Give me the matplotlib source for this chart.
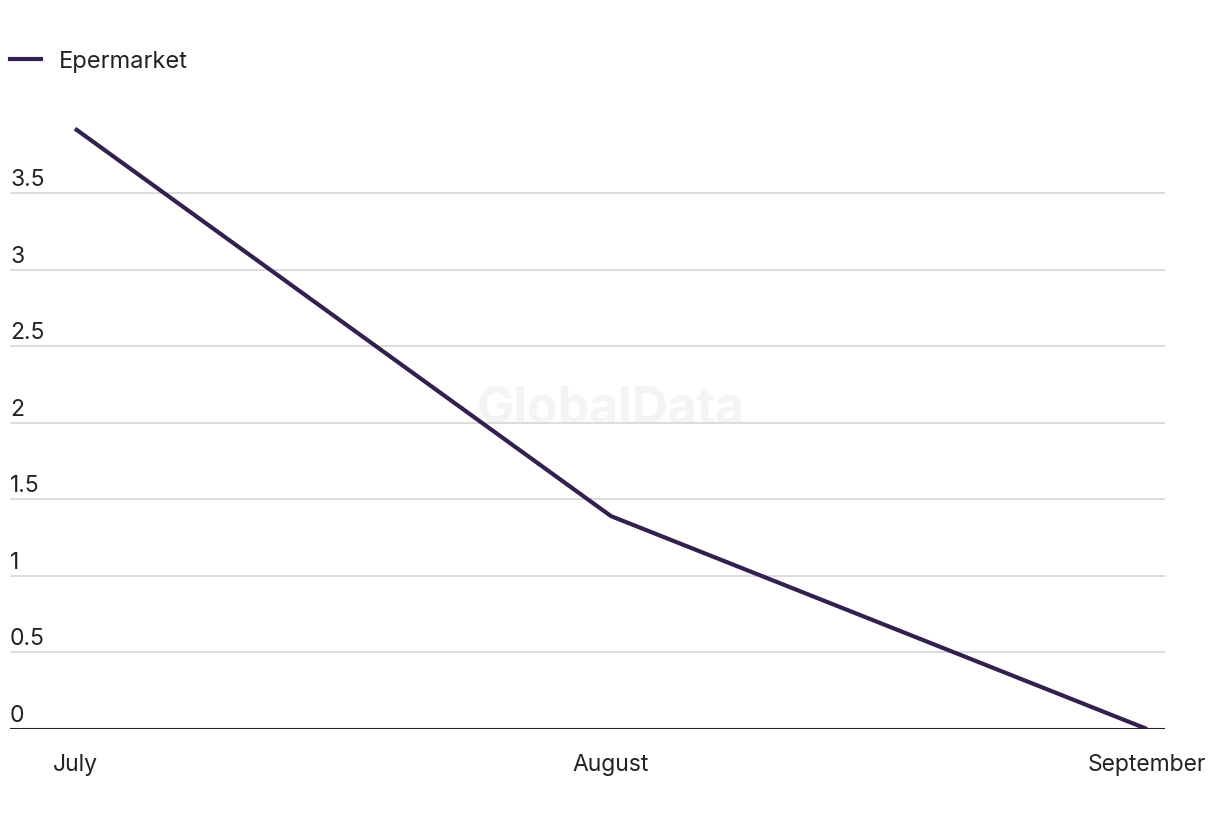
import matplotlib.pyplot as plt
from matplotlib.lines import Line2D
from matplotlib.transforms import offset_copy

plt.rcParams['font.family'] = ['Inter', 'DejaVu Sans']

months = ['July', 'August', 'September']
epermarket = [3.92, 1.39, 0.0]
y_ticks = [0, 0.5, 1, 1.5, 2, 2.5, 3, 3.5]
y_labels = ['0', '0.5', '1', '1.5', '2', '2.5', '3', '3.5']

line_color = '#33204f'
text_color = '#222222'

fig = plt.figure(figsize=(12.2, 8.2), dpi=100)
ax = fig.add_axes([10 / 1220, 90 / 820, 1155 / 1220, (730 - 117.4) / 820])

x = list(range(len(months)))
ax.plot(x, epermarket, color=line_color, linewidth=3, solid_capstyle='butt', zorder=3)

ax.set_xlim(-65 / 536, 2 + 18 / 536)
ax.set_ylim(0, 4)

# gridlines, with labels sitting on top of them
lab_trans = offset_copy(ax.get_yaxis_transform(), fig=fig, x=0, y=8, units='dots')
for v, lab in zip(y_ticks, y_labels):
    if v == 0:
        ax.axhline(v, color='#222222', linewidth=1.5, zorder=2)
    else:
        ax.axhline(v, color='#d9d9d9', linewidth=1.3, zorder=1)
    ax.text(0, v, lab, transform=lab_trans, ha='left', va='baseline',
            fontsize=16.5, color=text_color)
ax.set_yticks([])

ax.set_xticks(x)
ax.set_xticklabels(months, fontsize=16.5, color=text_color)
ax.tick_params(axis='x', length=0, pad=17)

for s in ax.spines.values():
    s.set_visible(False)

# watermark
ax.text(1, 2.09, 'GlobalData', ha='center', va='center',
        fontsize=36, fontweight='bold', color='#f4f4f4', zorder=0)

handle = Line2D([], [], color=line_color, linewidth=3)
fig.legend([handle], ['Epermarket'], loc='center left', bbox_to_anchor=(10 / 1220, 1 - 62 / 820),
           frameon=False, fontsize=17, handlelength=1.3, handletextpad=0.76,
           borderpad=0, borderaxespad=0, labelcolor=text_color)

fig.savefig('out.png', dpi=100)
